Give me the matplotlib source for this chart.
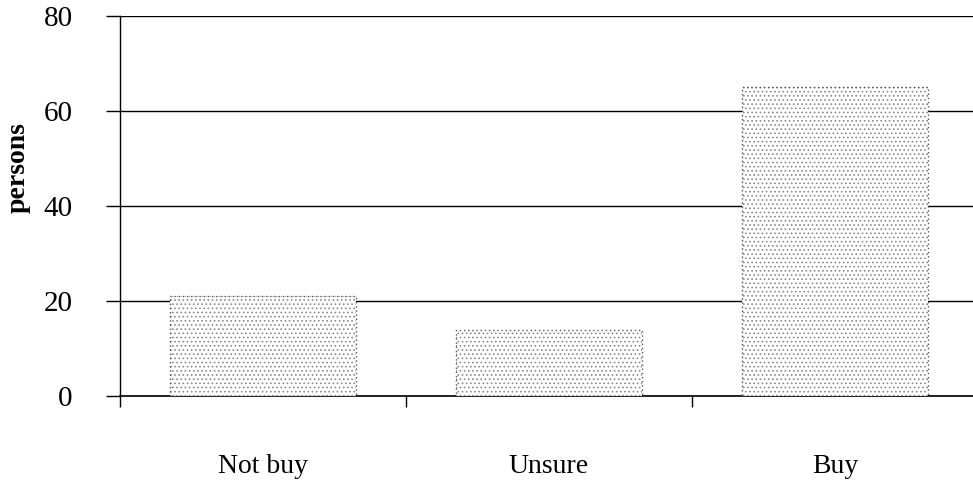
import matplotlib.pyplot as plt
import numpy as np

categories = ["Not buy", "Unsure", "Buy"]
persons = [21, 14, 65]
y_ticks = [0, 20, 40, 60, 80]

plt.rcParams["font.family"] = "Liberation Serif"
plt.rcParams["hatch.linewidth"] = 0.7
plt.rcParams["hatch.color"] = "#7a7a7a"

fig = plt.figure(figsize=(9.73, 4.9), dpi=100)
ax = fig.add_axes([120 / 973, 1 - 396 / 490, 858 / 973, 380 / 490])

x = np.arange(len(categories))
# stippled fill
ax.bar(x, persons, width=0.65, color="white", hatch="....", edgecolor="#8a8a8a",
       linewidth=0, zorder=3)
# dotted outline
ax.bar(x, persons, width=0.65, color="none", edgecolor="#555555",
       linewidth=1.0, linestyle=(0, (1, 2)), zorder=4)

ax.set_xlim(-0.5, 2.5)
ax.set_ylim(0, 80)
ax.set_yticks(y_ticks)
ax.set_yticklabels([str(v) for v in y_ticks], fontsize=21)
ax.yaxis.grid(True, color="black", linewidth=1.0, zorder=0)
ax.set_axisbelow(True)

# category boundaries as ticks, labels centred below
ax.set_xticks([-0.5, 0.5, 1.5, 2.5])
ax.set_xticklabels([])
ax.set_xticks(x, minor=True)
ax.set_xticklabels(categories, minor=True, fontsize=20)
ax.tick_params(axis="x", which="minor", length=0, pad=42)
ax.tick_params(axis="x", which="major", direction="out", length=8, width=1)
ax.tick_params(axis="y", direction="out", length=10, width=1, pad=24)

for side in ["top", "right"]:
    ax.spines[side].set_visible(False)
ax.spines["left"].set_linewidth(1.0)
ax.spines["bottom"].set_linewidth(1.2)

ax.set_ylabel("persons", fontsize=20, fontweight="bold")
ax.yaxis.set_label_coords(-0.104, 0.6)

fig.savefig("out.png", dpi=100)
